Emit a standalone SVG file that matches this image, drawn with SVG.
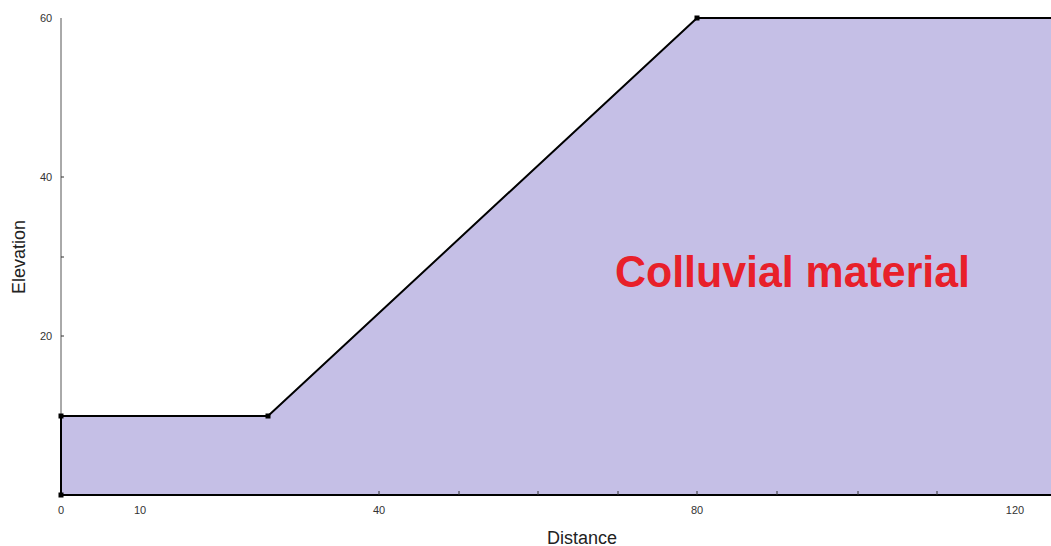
<svg xmlns="http://www.w3.org/2000/svg" width="1051" height="546" viewBox="0 0 1051 546">
<style>
.tick{font-family:"Liberation Sans",Arial,sans-serif;font-size:11px;fill:#333}
.axt{font-family:"Liberation Sans",Arial,sans-serif;font-size:18px;fill:#222}
.tk{stroke:#333;stroke-width:1}
.v{fill:#000}
</style>
<rect width="1051" height="546" fill="#fff"/>
<g id="axes">
<line x1="61" y1="18" x2="61" y2="495" stroke="#555" stroke-width="1"/>
<g class="tk">
<line x1="61" y1="177" x2="64" y2="177"/>
<line x1="61" y1="257" x2="64" y2="257"/>
<line x1="61" y1="336" x2="64" y2="336"/>
</g>
<text class="tick" x="46" y="22" text-anchor="middle">60</text>
<text class="tick" x="46" y="181" text-anchor="middle">40</text>
<text class="tick" x="46" y="340" text-anchor="middle">20</text>
<text class="tick" x="61" y="514" text-anchor="middle">0</text>
<text class="tick" x="140" y="514" text-anchor="middle">10</text>
<text class="tick" x="379" y="514" text-anchor="middle">40</text>
<text class="tick" x="697" y="514" text-anchor="middle">80</text>
<text class="tick" x="1015" y="514" text-anchor="middle">120</text>
<text class="axt" x="582" y="544" text-anchor="middle">Distance</text>
<text class="axt" x="0" y="0" text-anchor="middle" transform="translate(25,257) rotate(-90)">Elevation</text>
</g>
<g id="colluvial">
<polygon points="61,495 61,416 268,416 697,18 1051,18 1051,495" fill="#c5bfe6"/>
<polyline points="1051,495 61,495 61,416 268,416 697,18 1051,18" fill="none" stroke="#000" stroke-width="2"/>
<g class="tk">
<line x1="379" y1="495" x2="379" y2="491"/>
<line x1="459" y1="495" x2="459" y2="491"/>
<line x1="538" y1="495" x2="538" y2="491"/>
<line x1="618" y1="495" x2="618" y2="491"/>
<line x1="697" y1="495" x2="697" y2="491"/>
<line x1="777" y1="495" x2="777" y2="491"/>
<line x1="858" y1="495" x2="858" y2="491"/>
<line x1="937" y1="495" x2="937" y2="491"/>
</g>
<rect class="v" x="58.5" y="413.5" width="5" height="5"/>
<rect class="v" x="265.5" y="413.5" width="5" height="5"/>
<rect class="v" x="694.5" y="15.5" width="5" height="5"/>
<rect class="v" x="58.5" y="492.5" width="5" height="5"/>
<text x="615" y="287" font-family="'Liberation Sans',Arial,sans-serif" font-weight="bold" font-size="44" fill="#e8202a" textLength="355" lengthAdjust="spacingAndGlyphs">Colluvial material</text>
</g>
</svg>
